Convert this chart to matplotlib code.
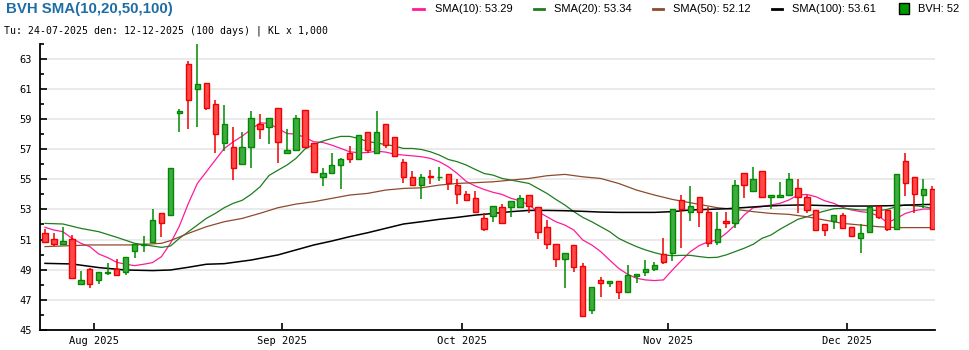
import matplotlib
matplotlib.use('Agg')
import matplotlib.pyplot as plt
from matplotlib.lines import Line2D
from matplotlib.patches import Rectangle
import pandas as pd

# 100 phien giao dich, 24-07-2025 -> 12-12-2025 (nghi le 01/09, 02/09)
dates = pd.bdate_range('2025-07-24', '2025-12-12')
dates = dates[~dates.isin(pd.to_datetime(['2025-09-01', '2025-09-02']))]

opens = [51.41, 51.01, 50.68, 51.01, 48.03, 49.03, 48.32, 48.78, 49.03, 48.83,
         50.24, 50.64, 50.81, 52.74, 52.62, 59.42, 62.67, 61.01, 61.41, 60.02,
         57.37, 57.11, 55.98, 57.11, 58.63, 58.43, 59.69, 56.71, 56.97, 59.62,
         57.37, 55.16, 55.38, 55.91, 56.77, 56.31, 58.10, 56.71, 58.63, 57.77,
         56.11, 55.12, 54.59, 55.21, 55.12, 55.32, 54.61, 54.02, 53.73, 52.40,
         52.56, 53.13, 53.13, 53.13, 53.93, 53.13, 51.81, 50.68, 49.69, 50.62,
         49.25, 46.33, 48.30, 48.10, 48.23, 47.50, 48.61, 48.83, 49.03, 50.02,
         50.09, 53.60, 52.82, 53.79, 52.82, 50.81, 52.23, 52.07, 55.38, 54.19,
         55.52, 53.79, 53.79, 53.93, 54.39, 53.79, 52.93, 52.01, 52.21, 52.60,
         51.81, 51.08, 51.48, 53.20, 52.96, 51.68, 56.18, 55.14, 53.93, 54.32]
highs = [51.70, 51.41, 51.81, 51.30, 48.92, 49.14, 48.83, 49.42, 49.71, 49.87,
         50.68, 51.23, 53.02, 52.74, 55.72, 59.64, 62.82, 64.00, 61.41, 60.24,
         59.91, 58.47, 58.14, 59.51, 59.31, 59.09, 59.69, 58.32, 59.25, 59.62,
         57.37, 55.72, 56.77, 56.42, 57.19, 57.90, 58.10, 59.53, 58.63, 57.77,
         56.33, 55.54, 55.34, 55.58, 55.83, 55.32, 54.99, 54.19, 54.19, 52.78,
         53.22, 53.35, 53.55, 53.95, 53.93, 53.13, 52.29, 50.68, 50.09, 50.62,
         49.42, 47.83, 48.50, 48.23, 48.28, 49.31, 48.70, 49.64, 49.51, 51.08,
         53.00, 53.95, 54.55, 53.79, 53.18, 52.85, 52.85, 54.94, 55.38, 55.83,
         55.52, 53.93, 54.81, 55.43, 55.03, 53.95, 52.93, 52.01, 52.60, 52.74,
         51.85, 52.01, 53.13, 53.20, 52.96, 55.32, 56.73, 55.14, 55.01, 54.57]
lows = [50.75, 50.57, 50.68, 48.43, 48.03, 47.81, 48.03, 48.65, 48.65, 48.65,
        49.80, 50.20, 50.81, 51.19, 52.62, 58.10, 58.30, 58.43, 59.62, 56.75,
        56.86, 54.94, 55.94, 55.76, 57.66, 57.33, 56.09, 56.71, 56.97, 57.11,
        55.49, 54.57, 55.38, 54.37, 56.09, 56.31, 56.77, 56.71, 57.08, 56.51,
        54.77, 54.59, 53.71, 54.70, 54.90, 54.30, 53.38, 53.60, 52.80, 51.57,
        52.18, 52.01, 52.51, 53.13, 52.74, 51.06, 50.37, 49.20, 47.81, 48.87,
        45.94, 46.07, 47.22, 47.88, 47.04, 47.50, 48.10, 48.61, 48.89, 49.40,
        49.60, 50.42, 52.25, 51.85, 50.48, 50.64, 51.79, 51.79, 53.77, 54.19,
        53.73, 53.00, 53.79, 53.93, 52.74, 52.78, 51.61, 51.26, 51.68, 51.68,
        51.21, 50.09, 51.48, 52.38, 51.57, 51.68, 53.91, 52.78, 53.11, 51.68]
closes = [50.86, 50.68, 50.90, 48.43, 48.32, 48.03, 48.83, 48.83, 48.65, 49.87,
          50.68, 50.68, 52.29, 52.07, 55.72, 59.51, 60.28, 61.30, 59.69, 57.97,
          58.63, 55.72, 57.11, 59.09, 58.30, 59.09, 57.48, 56.97, 59.09, 57.11,
          55.49, 55.38, 55.91, 56.31, 56.31, 57.90, 56.97, 58.10, 57.30, 56.51,
          55.12, 54.59, 55.12, 55.12, 55.16, 54.77, 53.99, 53.60, 52.80, 51.68,
          53.22, 52.07, 53.55, 53.77, 53.24, 51.48, 50.70, 49.69, 50.09, 49.20,
          45.94, 47.83, 48.10, 48.23, 47.50, 48.63, 48.70, 49.05, 49.29, 49.49,
          53.00, 53.00, 53.20, 52.82, 50.75, 51.68, 52.07, 54.61, 54.59, 54.99,
          53.79, 53.93, 53.93, 54.99, 53.79, 52.93, 51.61, 51.61, 52.60, 51.79,
          51.21, 51.41, 53.13, 52.51, 51.68, 55.32, 54.72, 53.99, 54.32, 51.68]

sma10 = [51.81, 51.63, 51.52, 51.08, 50.75, 50.53, 50.04, 49.80, 49.49, 49.36,
         49.27, 49.36, 49.47, 49.87, 50.75, 51.90, 53.40, 54.72, 55.49, 56.27,
         57.04, 57.48, 57.86, 58.30, 58.74, 58.70, 58.36, 58.03, 57.99, 57.77,
         57.48, 57.44, 57.26, 57.04, 56.82, 56.75, 56.77, 56.86, 56.80, 56.66,
         56.60, 56.55, 56.49, 56.38, 56.16, 55.83, 55.38, 54.85, 54.55, 54.32,
         54.13, 53.99, 53.73, 53.57, 53.29, 52.85, 52.51, 52.18, 51.96, 51.63,
         50.97, 50.64, 50.20, 49.64, 49.09, 48.70, 48.43, 48.32, 48.28, 48.32,
         48.98, 49.60, 50.20, 50.60, 50.85, 50.97, 51.41, 51.96, 52.62, 53.11,
         53.18, 53.29, 53.40, 53.62, 53.95, 53.99, 53.84, 53.57, 53.40, 53.13,
         52.96, 52.85, 52.78, 52.56, 52.12, 52.40, 52.73, 52.91, 53.02, 53.02]

sma20_idx = [0, 2, 4, 6, 8, 10, 12, 13, 14, 15, 16, 17, 18, 19, 20, 21, 22, 23,
             24, 25, 26, 27, 28, 29, 30, 31, 32, 33, 34, 35, 36, 37, 38, 39, 40,
             41, 42, 43, 44, 45, 46, 47, 48, 49, 50, 51, 52, 53, 54, 55, 56, 57,
             58, 59, 60, 61, 62, 63, 64, 65, 66, 67, 68, 69, 70, 71, 72, 73, 74,
             75, 76, 77, 78, 79, 80, 81, 82, 83, 84, 85, 86, 87, 88, 89, 90, 91,
             92, 93, 94, 95, 96, 97, 98, 99]
sma20 = [52.07, 52.03, 51.74, 51.52, 51.15, 50.75, 50.57, 50.48, 50.57, 51.08,
         51.52, 51.96, 52.40, 52.73, 53.11, 53.40, 53.60, 54.00, 54.50, 55.25,
         55.60, 55.94, 56.38, 57.00, 57.30, 57.53, 57.70, 57.84, 57.84, 57.70,
         57.50, 57.40, 57.30, 57.20, 57.04, 57.04, 56.97, 56.82, 56.60, 56.31,
         56.16, 55.94, 55.65, 55.38, 55.27, 55.05, 54.94, 54.83, 54.72, 54.39,
         54.06, 53.66, 53.29, 52.85, 52.47, 52.18, 51.85, 51.52, 51.08, 50.79,
         50.53, 50.31, 50.13, 49.98, 49.93, 49.95, 49.95, 49.87, 49.80, 49.82,
         49.98, 50.20, 50.42, 50.68, 51.08, 51.30, 51.68, 52.01, 52.34, 52.51,
         52.73, 52.89, 53.04, 53.07, 53.02, 52.96, 52.96, 52.91, 53.00, 53.18,
         53.29, 53.24, 53.18, 53.07]

sma50_idx = [0, 5, 10, 13, 14, 16, 18, 20, 22, 24, 26, 28, 30, 32, 34, 36, 38,
             40, 42, 44, 46, 48, 50, 52, 54, 56, 58, 60, 62, 64, 66, 68, 70, 72,
             74, 75, 77, 79, 81, 83, 85, 87, 89, 91, 93, 95, 97, 99]
sma50 = [50.53, 50.64, 50.64, 50.75, 50.93, 51.41, 51.85, 52.18, 52.40, 52.74,
         53.11, 53.35, 53.51, 53.73, 53.95, 54.06, 54.28, 54.39, 54.43, 54.61,
         54.72, 54.77, 54.83, 54.94, 55.05, 55.23, 55.32, 55.16, 55.05, 54.72,
         54.28, 53.95, 53.66, 53.44, 53.22, 53.11, 53.00, 52.85, 52.73, 52.67,
         52.51, 52.29, 52.07, 51.96, 51.85, 51.79, 51.79, 51.79]

sma100_idx = [0, 3, 6, 9, 12, 14, 16, 18, 20, 23, 26, 28, 30, 32, 34, 36, 38,
              40, 42, 44, 46, 48, 50, 52, 54, 56, 58, 60, 62, 64, 66, 68, 70, 72,
              74, 76, 78, 80, 82, 84, 86, 88, 90, 92, 94, 96, 98, 99]
sma100 = [49.42, 49.38, 49.14, 48.98, 48.94, 48.98, 49.16, 49.36, 49.40, 49.64,
          49.98, 50.31, 50.64, 50.90, 51.19, 51.45, 51.74, 52.03, 52.18, 52.34,
          52.47, 52.62, 52.73, 52.85, 52.93, 52.93, 52.91, 52.87, 52.82, 52.80,
          52.80, 52.80, 52.85, 52.96, 53.00, 53.04, 53.12, 53.20, 53.26, 53.29,
          53.27, 53.23, 53.22, 53.22, 53.24, 53.28, 53.32, 53.33]

legend_labels = ['SMA(10): 53.29', 'SMA(20): 53.34', 'SMA(50): 52.12',
                 'SMA(100): 53.61', 'BVH: 52']

C_PINK = '#ff1a9c'
C_GREEN_LINE = '#1e7d1e'
C_BROWN = '#8e4a2c'
C_UP_FILL, C_UP_EDGE = '#40ab40', '#008a00'
C_DN_FILL, C_DN_EDGE = '#ff4848', '#f00000'
MONO = 'DejaVu Sans Mono'
SANS = 'Liberation Sans'

fig = plt.figure(figsize=(9.7, 3.5), dpi=100)
ax = fig.add_axes([40.5 / 970, 1 - 330 / 350, (935 - 40.5) / 970, (330 - 43.5) / 350])

x = list(range(len(closes)))

# duong trung binh
ax.plot(x, sma10, color=C_PINK, lw=0.9, zorder=2)
ax.plot(sma20_idx, sma20, color=C_GREEN_LINE, lw=0.9, zorder=2)
ax.plot(sma50_idx, sma50, color=C_BROWN, lw=0.9, zorder=2)
ax.plot(sma100_idx, sma100, color='black', lw=1.1, zorder=2)

# nen
for i in x:
    o, h, l, c = opens[i], highs[i], lows[i], closes[i]
    up = c >= o
    edge = C_UP_EDGE if up else C_DN_EDGE
    fill = C_UP_FILL if up else C_DN_FILL
    ax.vlines(i, l, h, color=edge, lw=1.1, zorder=3)
    ax.bar(i, abs(c - o), bottom=min(o, c), width=0.6, color=fill,
           edgecolor=edge, linewidth=1.0, zorder=4)

ax.set_xlim(-0.5, 99.3)
ax.set_ylim(45, 64)

ax.set_yticks(range(45, 64, 2))
ax.set_yticks(range(45, 65), minor=True)
ax.yaxis.grid(True, which='major', color='#e6e6e6', lw=1.2, zorder=0)
ax.set_axisbelow(True)

# tick thang
month_pos, month_lab = [], []
for i in range(1, len(dates)):
    if dates[i].month != dates[i - 1].month:
        month_pos.append(i - 0.5)
        month_lab.append(dates[i].strftime('%b %Y'))
ax.set_xticks(month_pos)
ax.set_xticklabels(month_lab)

ax.tick_params(axis='y', which='major', direction='in', length=5, width=1.2,
               labelsize=7.5, pad=6)
ax.tick_params(axis='y', which='minor', direction='in', length=3, width=1.2)
ax.tick_params(axis='x', direction='in', length=5, width=1.2, labelsize=7.5, pad=4)
for lab in ax.get_xticklabels() + ax.get_yticklabels():
    lab.set_family(MONO)

for s in ['top', 'right']:
    ax.spines[s].set_visible(False)
for s in ['left', 'bottom']:
    ax.spines[s].set_linewidth(1.3)
    ax.spines[s].set_color('black')

# tieu de
fig.text(6 / 970, 1 - 9.5 / 350, 'BVH SMA(10,20,50,100)', family=SANS,
         fontsize=10.8, weight='bold', color='#1f6da6', va='center', ha='left')
fig.text(4 / 970, 1 - 31 / 350,
         'Tu: 24-07-2025 den: 12-12-2025 (100 days) | KL x 1,000',
         family=MONO, fontsize=7.1, va='center', ha='left')

# chu thich
leg_y = 1 - 8.5 / 350
line_items = [(413, 424, C_PINK, 435), (534, 544, C_GREEN_LINE, 554),
              (653, 663, C_BROWN, 673), (772, 782, 'black', 792)]
for (x0, x1, col, tx), lab in zip(line_items, legend_labels[:4]):
    fig.add_artist(Line2D([x0 / 970, x1 / 970], [leg_y, leg_y], color=col,
                          lw=2, transform=fig.transFigure))
    fig.text(tx / 970, leg_y, lab, family=SANS, fontsize=8, va='center', ha='left')
fig.add_artist(Rectangle((899 / 970, 1 - 13.5 / 350), 10 / 970, 10 / 350,
                         facecolor='#009900', edgecolor='black', lw=1,
                         transform=fig.transFigure))
fig.text(918 / 970, leg_y, legend_labels[4], family=SANS, fontsize=8,
         va='center', ha='left')

fig.savefig('out.png', dpi=100)
